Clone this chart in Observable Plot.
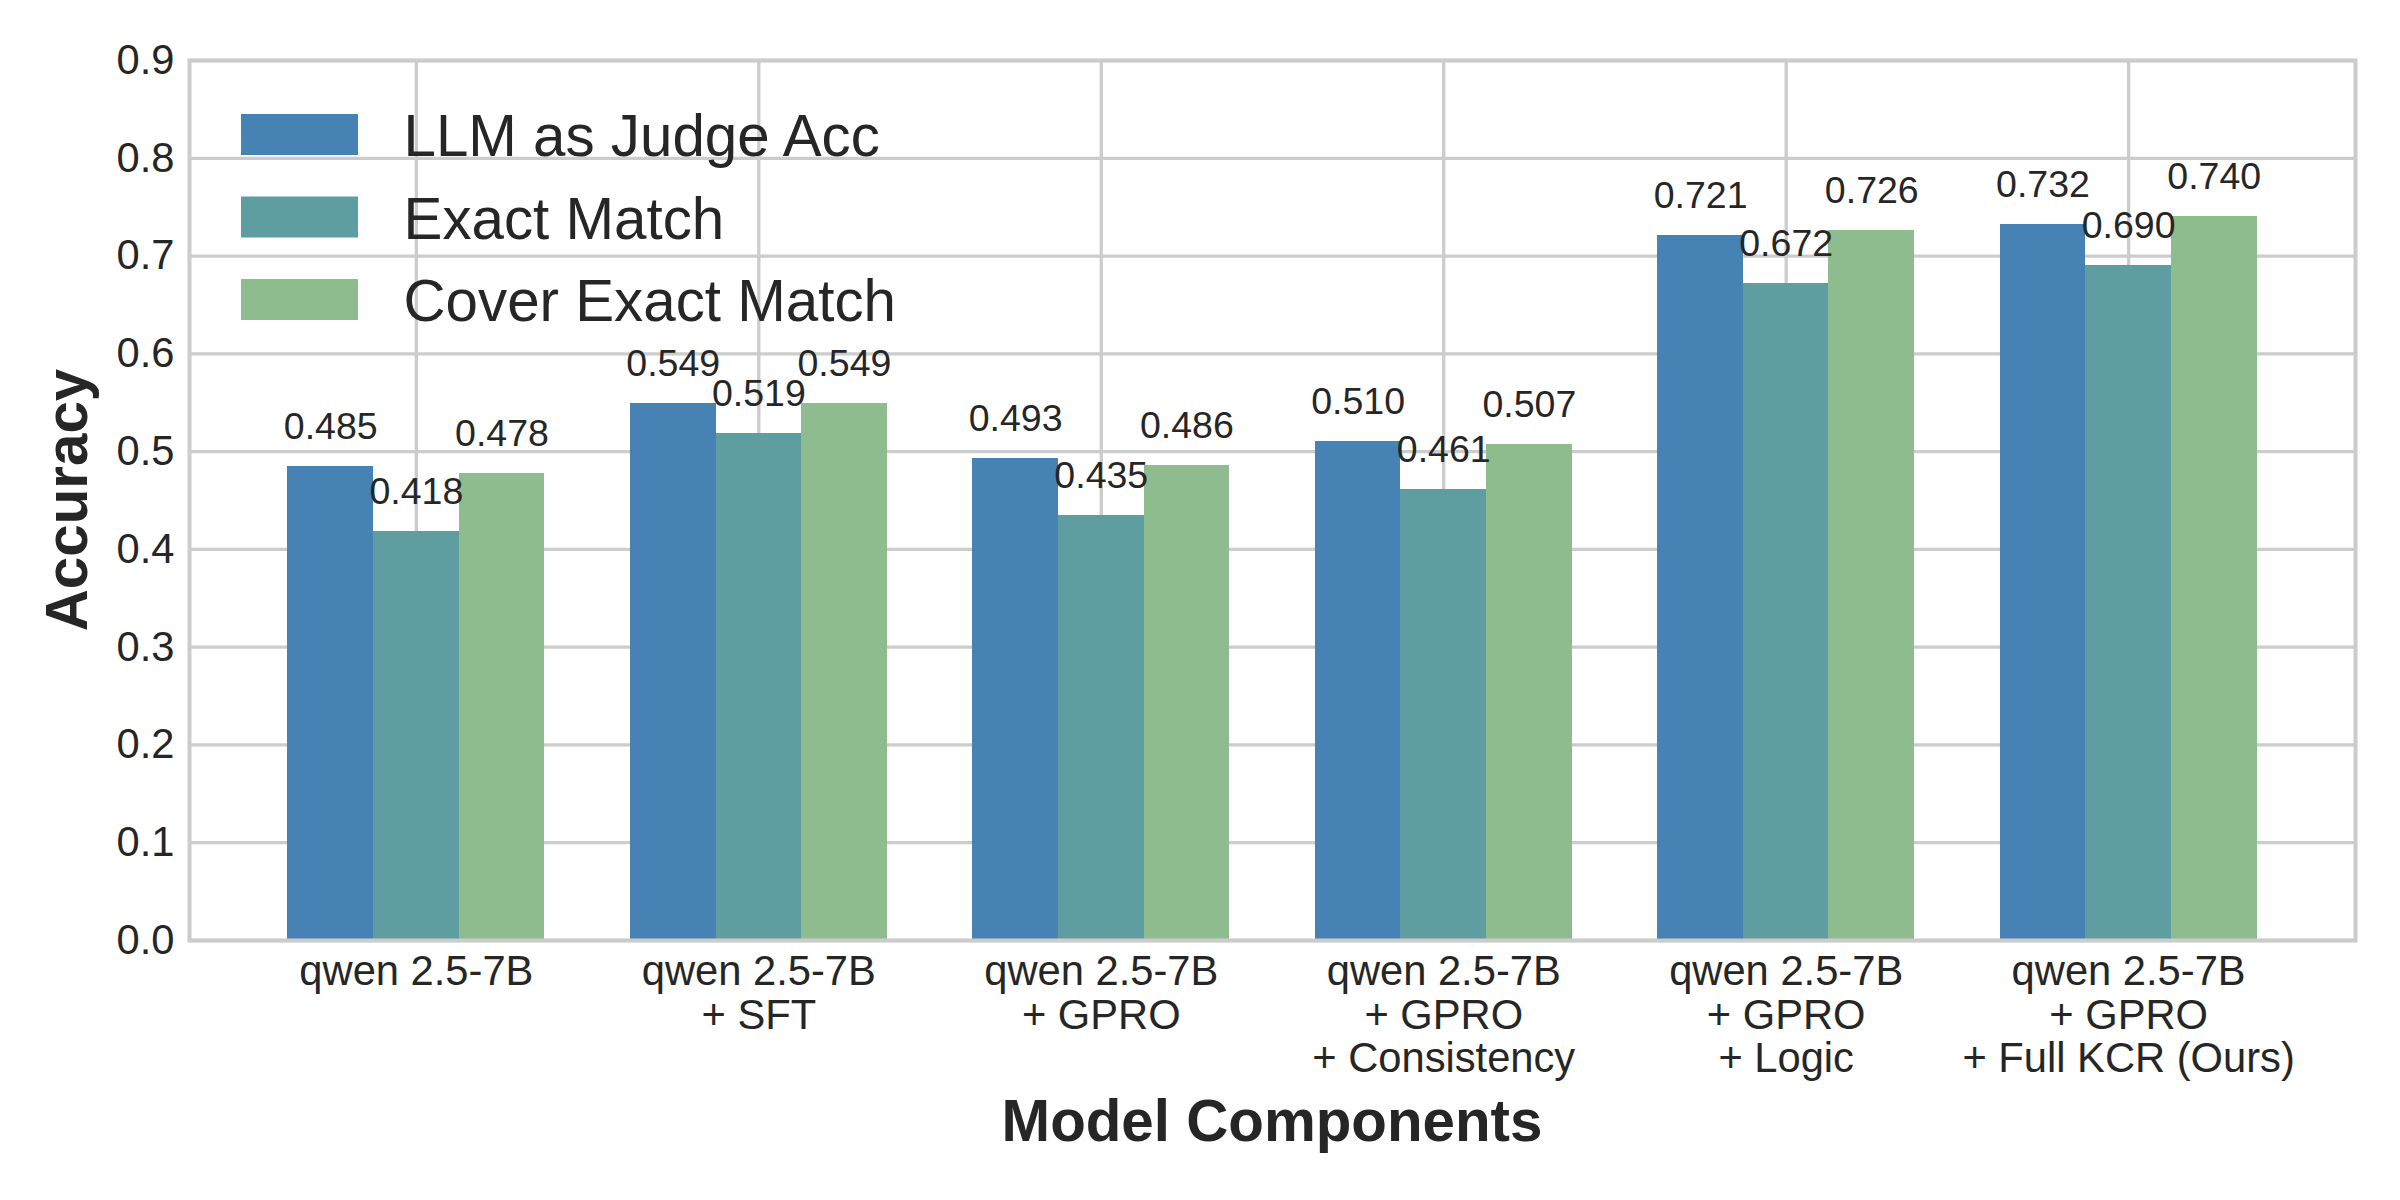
<!DOCTYPE html>
<html>
<head>
<meta charset="utf-8">
<script src="https://cdn.jsdelivr.net/npm/d3@7"></script>
<script src="https://cdn.jsdelivr.net/npm/@observablehq/plot@0.6"></script>
<style>
  html, body { margin: 0; padding: 0; background: #ffffff; }
  #chart { width: 2400px; height: 1200px; }
</style>
</head>
<body>
<div id="chart"></div>
<script>
// ---- data ----
const categories = [
  "qwen 2.5-7B",
  "qwen 2.5-7B\n+ SFT",
  "qwen 2.5-7B\n+ GPRO",
  "qwen 2.5-7B\n+ GPRO\n+ Consistency",
  "qwen 2.5-7B\n+ GPRO\n+ Logic",
  "qwen 2.5-7B\n+ GPRO\n+ Full KCR (Ours)"
];
const seriesNames = ["LLM as Judge Acc", "Exact Match", "Cover Exact Match"];
const llmJudgeAcc     = [0.485, 0.549, 0.493, 0.510, 0.721, 0.732];
const exactMatch      = [0.418, 0.519, 0.435, 0.461, 0.672, 0.690];
const coverExactMatch = [0.478, 0.549, 0.486, 0.507, 0.726, 0.740];
const yTicks = [0.0, 0.1, 0.2, 0.3, 0.4, 0.5, 0.6, 0.7, 0.8, 0.9];
const xLabel = "Model Components";
const yLabel = "Accuracy";

// ---- styling ----
const seriesColors = ["#4682B4", "#5F9EA0", "#8FBC8F"];
const ink = "#262626";
const gridColor = "#cccccc";
const font = '"Liberation Sans", Arial, Helvetica, sans-serif';

const seriesValues = [llmJudgeAcc, exactMatch, coverExactMatch];
const rows = categories.flatMap((c, i) =>
  seriesNames.map((s, j) => ({i, j, series: s, value: seriesValues[j][i]}))
);
const barW = 0.25;
const left = d => d.i - 1.5 * barW + d.j * barW;
const catIdx = d3.range(categories.length);

const W = 2400, H = 1200, ML = 189, MR = 45, MT = 60, MB = 260;

const plot = Plot.plot({
  width: W, height: H,
  marginLeft: ML, marginRight: MR, marginTop: MT, marginBottom: MB,
  style: {fontFamily: font, color: ink, background: "#ffffff", overflow: "visible"},
  x: {domain: [-0.6625, categories.length - 1 + 0.6625]},
  y: {domain: [0, 0.9]},
  color: {domain: seriesNames, range: seriesColors},
  marks: [
    Plot.gridX({ticks: catIdx, stroke: gridColor, strokeOpacity: 1, strokeWidth: 3.3}),
    Plot.gridY({ticks: yTicks, stroke: gridColor, strokeOpacity: 1, strokeWidth: 3.3}),
    Plot.rect(rows, {
      x1: left, x2: d => left(d) + barW, y1: 0, y2: "value",
      fill: "series", shapeRendering: "crispEdges"
    }),
    Plot.text(rows, {
      x: d => left(d) + barW / 2, y: "value",
      text: d => d.value.toFixed(3),
      dy: -27.5, lineAnchor: "bottom", fontSize: 37.5, fill: ink
    }),
    Plot.axisX({
      ticks: catIdx, tickFormat: i => categories[i],
      tickSize: 0, tickPadding: 14, fontSize: 41.7, lineHeight: 1.04, label: null
    }),
    Plot.axisY({
      ticks: yTicks, tickFormat: d3.format(".1f"),
      tickSize: 0, tickPadding: 15, fontSize: 41.7, label: null
    }),
    Plot.frame({stroke: gridColor, strokeWidth: 4})
  ]
});

const svg = d3.select(plot);

// legend inside the axes, top-left
const lg = svg.append("g")
  .attr("font-family", font).attr("fill", ink).attr("text-anchor", "start");
seriesNames.forEach((name, j) => {
  const top = 114 + j * 82.5;
  lg.append("rect")
    .attr("x", 241).attr("y", top).attr("width", 117).attr("height", 41)
    .attr("fill", seriesColors[j]);
  lg.append("text")
    .attr("x", 403.5).attr("y", top + 42.3)
    .attr("text-anchor", "start")
    .attr("font-size", 58.3).attr("fill", ink)
    .text(name);
});

// axis titles
svg.append("text")
  .attr("transform", `translate(87.3, ${(MT + H - MB) / 2}) rotate(-90)`)
  .attr("text-anchor", "middle")
  .attr("font-family", font).attr("font-weight", "bold").attr("font-size", 58.3)
  .attr("fill", ink)
  .text(yLabel);
svg.append("text")
  .attr("x", (ML + W - MR) / 2).attr("y", 1140.7)
  .attr("text-anchor", "middle")
  .attr("font-family", font).attr("font-weight", "bold").attr("font-size", 58.3)
  .attr("fill", ink)
  .text(xLabel);

document.getElementById("chart").appendChild(plot);
</script>
</body>
</html>
